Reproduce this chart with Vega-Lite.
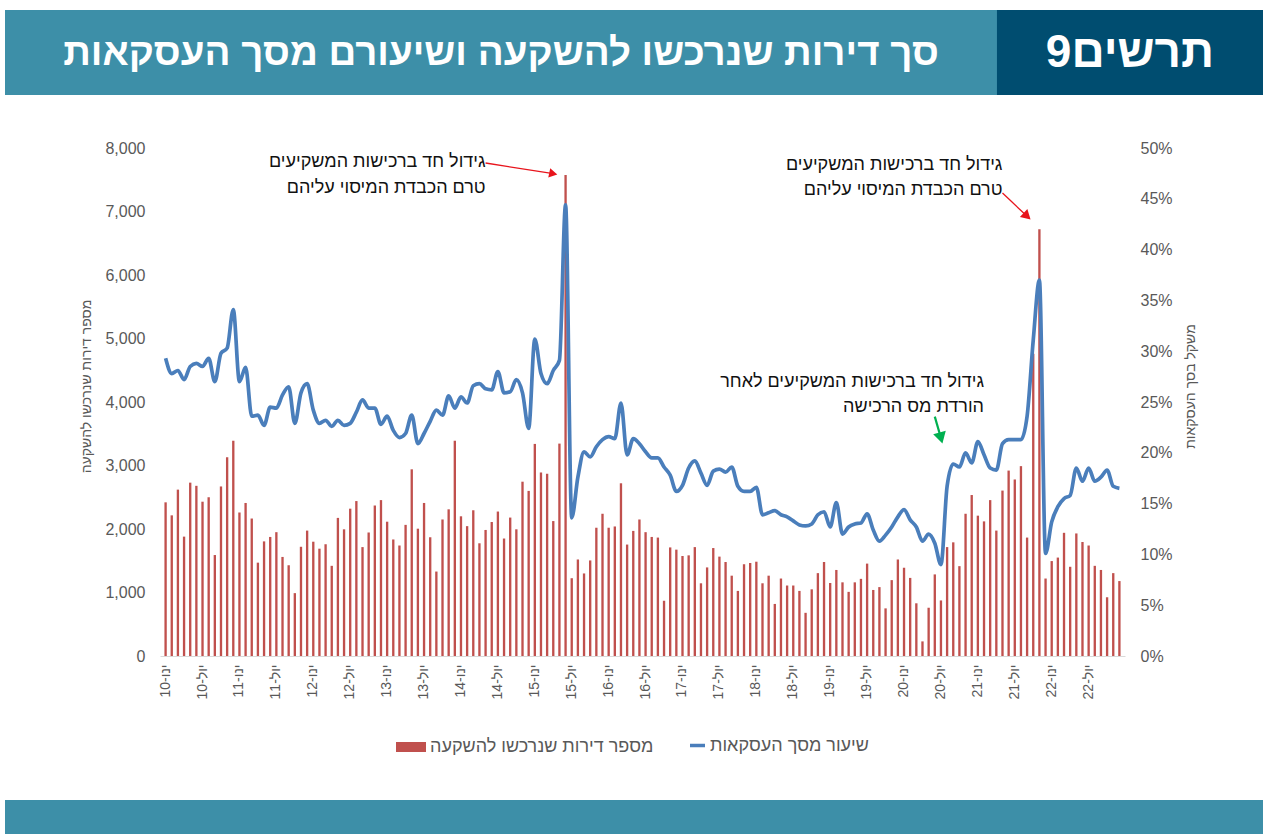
{
  "$schema": "https://vega.github.io/schema/vega-lite/v6.json",
  "padding": {"left": 5, "top": 10, "right": 0, "bottom": 0},
  "background": "white",
  "config": {"view": {"stroke": null}, "font": "Liberation Sans"},
  "datasets": {
    "main": [
      {"m":"ינו-10","n":2420,"p":0.293},{"m":"פבר-10","n":2215,"p":0.278},{"m":"מרץ-10","n":2620,"p":0.281},{"m":"אפר-10","n":1880,"p":0.272},{"m":"מאי-10","n":2730,"p":0.285},{"m":"יונ-10","n":2680,"p":0.288},{"m":"יול-10","n":2430,"p":0.285},{"m":"אוג-10","n":2500,"p":0.293},{"m":"ספט-10","n":1590,"p":0.270},{"m":"אוק-10","n":2670,"p":0.298},{"m":"נוב-10","n":3130,"p":0.303},{"m":"דצמ-10","n":3390,"p":0.341},
      {"m":"ינו-11","n":2260,"p":0.270},{"m":"פבר-11","n":2410,"p":0.284},{"m":"מרץ-11","n":2165,"p":0.236},{"m":"אפר-11","n":1470,"p":0.237},{"m":"מאי-11","n":1805,"p":0.227},{"m":"יונ-11","n":1875,"p":0.245},{"m":"יול-11","n":1950,"p":0.244},{"m":"אוג-11","n":1560,"p":0.257},{"m":"ספט-11","n":1430,"p":0.265},{"m":"אוק-11","n":990,"p":0.229},{"m":"נוב-11","n":1720,"p":0.259},{"m":"דצמ-11","n":1975,"p":0.268},
      {"m":"ינו-12","n":1800,"p":0.242},{"m":"פבר-12","n":1690,"p":0.229},{"m":"מרץ-12","n":1760,"p":0.232},{"m":"אפר-12","n":1420,"p":0.226},{"m":"מאי-12","n":2175,"p":0.232},{"m":"יונ-12","n":1995,"p":0.227},{"m":"יול-12","n":2320,"p":0.229},{"m":"אוג-12","n":2440,"p":0.240},{"m":"ספט-12","n":1715,"p":0.252},{"m":"אוק-12","n":1945,"p":0.244},{"m":"נוב-12","n":2370,"p":0.244},{"m":"דצמ-12","n":2455,"p":0.228},
      {"m":"ינו-13","n":2115,"p":0.236},{"m":"פבר-13","n":1835,"p":0.222},{"m":"מרץ-13","n":1740,"p":0.215},{"m":"אפר-13","n":2065,"p":0.219},{"m":"מאי-13","n":2940,"p":0.237},{"m":"יונ-13","n":2005,"p":0.209},{"m":"יול-13","n":2410,"p":0.219},{"m":"אוג-13","n":1870,"p":0.231},{"m":"ספט-13","n":1330,"p":0.242},{"m":"אוק-13","n":2150,"p":0.237},{"m":"נוב-13","n":2310,"p":0.256},{"m":"דצמ-13","n":3390,"p":0.244},
      {"m":"ינו-14","n":2200,"p":0.255},{"m":"פבר-14","n":2045,"p":0.249},{"m":"מרץ-14","n":2295,"p":0.266},{"m":"אפר-14","n":1775,"p":0.268},{"m":"מאי-14","n":1985,"p":0.263},{"m":"יונ-14","n":2110,"p":0.262},{"m":"יול-14","n":2275,"p":0.280},{"m":"אוג-14","n":1850,"p":0.259},{"m":"ספט-14","n":2180,"p":0.260},{"m":"אוק-14","n":1995,"p":0.272},{"m":"נוב-14","n":2745,"p":0.259},{"m":"דצמ-14","n":2600,"p":0.224},
      {"m":"ינו-15","n":3340,"p":0.312},{"m":"פבר-15","n":2890,"p":0.278},{"m":"מרץ-15","n":2870,"p":0.268},{"m":"אפר-15","n":2125,"p":0.281},{"m":"מאי-15","n":3345,"p":0.291},{"m":"יונ-15","n":7575,"p":0.444},{"m":"יול-15","n":1225,"p":0.136},{"m":"אוג-15","n":1520,"p":0.176},{"m":"ספט-15","n":1300,"p":0.201},{"m":"אוק-15","n":1505,"p":0.196},{"m":"נוב-15","n":2020,"p":0.206},{"m":"דצמ-15","n":2240,"p":0.213},
      {"m":"ינו-16","n":2020,"p":0.216},{"m":"פבר-16","n":2040,"p":0.214},{"m":"מרץ-16","n":2720,"p":0.249},{"m":"אפר-16","n":1755,"p":0.198},{"m":"מאי-16","n":1970,"p":0.214},{"m":"יונ-16","n":2150,"p":0.209},{"m":"יול-16","n":1950,"p":0.201},{"m":"אוג-16","n":1875,"p":0.195},{"m":"ספט-16","n":1865,"p":0.195},{"m":"אוק-16","n":870,"p":0.186},{"m":"נוב-16","n":1710,"p":0.178},{"m":"דצמ-16","n":1675,"p":0.162},
      {"m":"ינו-17","n":1575,"p":0.168},{"m":"פבר-17","n":1585,"p":0.185},{"m":"מרץ-17","n":1715,"p":0.192},{"m":"אפר-17","n":1145,"p":0.180},{"m":"מאי-17","n":1395,"p":0.168},{"m":"יונ-17","n":1700,"p":0.182},{"m":"יול-17","n":1565,"p":0.184},{"m":"אוג-17","n":1480,"p":0.181},{"m":"ספט-17","n":1265,"p":0.186},{"m":"אוק-17","n":1025,"p":0.167},{"m":"נוב-17","n":1445,"p":0.162},{"m":"דצמ-17","n":1465,"p":0.162},
      {"m":"ינו-18","n":1485,"p":0.166},{"m":"פבר-18","n":1145,"p":0.139},{"m":"מרץ-18","n":1265,"p":0.141},{"m":"אפר-18","n":820,"p":0.143},{"m":"מאי-18","n":1220,"p":0.139},{"m":"יונ-18","n":1110,"p":0.137},{"m":"יול-18","n":1110,"p":0.133},{"m":"אוג-18","n":1025,"p":0.129},{"m":"ספט-18","n":680,"p":0.128},{"m":"אוק-18","n":1050,"p":0.130},{"m":"נוב-18","n":1305,"p":0.139},{"m":"דצמ-18","n":1480,"p":0.142},
      {"m":"ינו-19","n":1150,"p":0.127},{"m":"פבר-19","n":1355,"p":0.151},{"m":"מרץ-19","n":1160,"p":0.120},{"m":"אפר-19","n":1010,"p":0.127},{"m":"מאי-19","n":1160,"p":0.130},{"m":"יונ-19","n":1215,"p":0.131},{"m":"יול-19","n":1455,"p":0.140},{"m":"אוג-19","n":1040,"p":0.124},{"m":"ספט-19","n":1085,"p":0.113},{"m":"אוק-19","n":750,"p":0.119},{"m":"נוב-19","n":1195,"p":0.127},{"m":"דצמ-19","n":1520,"p":0.137},
      {"m":"ינו-20","n":1390,"p":0.144},{"m":"פבר-20","n":1230,"p":0.134},{"m":"מרץ-20","n":830,"p":0.127},{"m":"אפר-20","n":230,"p":0.113},{"m":"מאי-20","n":760,"p":0.120},{"m":"יונ-20","n":1285,"p":0.111},{"m":"יול-20","n":875,"p":0.090},{"m":"אוג-20","n":1715,"p":0.167},{"m":"ספט-20","n":1790,"p":0.189},{"m":"אוק-20","n":1415,"p":0.186},{"m":"נוב-20","n":2240,"p":0.200},{"m":"דצמ-20","n":2535,"p":0.190},
      {"m":"ינו-21","n":2210,"p":0.211},{"m":"פבר-21","n":2120,"p":0.198},{"m":"מרץ-21","n":2455,"p":0.185},{"m":"אפר-21","n":1975,"p":0.183},{"m":"מאי-21","n":2605,"p":0.209},{"m":"יונ-21","n":2920,"p":0.213},{"m":"יול-21","n":2780,"p":0.213},{"m":"אוג-21","n":2990,"p":0.213},{"m":"ספט-21","n":1865,"p":0.236},{"m":"אוק-21","n":4760,"p":0.311},{"m":"נוב-21","n":6720,"p":0.370},{"m":"דצמ-21","n":1220,"p":0.101},
      {"m":"ינו-22","n":1495,"p":0.132},{"m":"פבר-22","n":1550,"p":0.147},{"m":"מרץ-22","n":1940,"p":0.155},{"m":"אפר-22","n":1405,"p":0.158},{"m":"מאי-22","n":1930,"p":0.185},{"m":"יונ-22","n":1795,"p":0.172},{"m":"יול-22","n":1740,"p":0.185},{"m":"אוג-22","n":1420,"p":0.172},{"m":"ספט-22","n":1355,"p":0.176},{"m":"אוק-22","n":925,"p":0.183},{"m":"נוב-22","n":1305,"p":0.167},{"m":"דצמ-22","n":1180,"p":0.165}
    ],
    "notes": [
      {"m":"מאי-14","n":7780,"t":"גידול חד ברכישות המשקיעים"},
      {"m":"מאי-14","n":7370,"t":"טרם הכבדת המיסוי עליהם"},
      {"m":"מאי-21","n":7732,"t":"גידול חד ברכישות המשקיעים"},
      {"m":"מאי-21","n":7339,"t":"טרם הכבדת המיסוי עליהם"},
      {"m":"פבר-21","n":4315,"t":"גידול חד ברכישות המשקיעים לאחר"},
      {"m":"פבר-21","n":3921,"t":"הורדת מס הרכישה"}
    ],
    "arrows": [
      {"arrow":"a1","kind":"red","m":"מאי-14","n":7764},
      {"arrow":"a1","kind":"red","m":"אפר-15","n":7595},
      {"arrow":"a2","kind":"red","m":"מאי-21","n":7291},
      {"arrow":"a2","kind":"red","m":"ספט-21","n":6924},
      {"arrow":"a3","kind":"green","m":"יונ-20","n":3769},
      {"arrow":"a3","kind":"green","m":"יול-20","n":3433}
    ],
    "heads": [
      {"arrow":"a1","m":"אפר-15","n":7595},
      {"arrow":"a2","m":"ספט-21","n":6924},
      {"arrow":"a3","m":"יול-20","n":3433}
    ],
    "band": [{"a": 0, "b": 0.272}]
  },
  "concat": [
    {
      "width": 155, "height": 85,
      "view": {"fill": "#3d8fa8", "stroke": null},
      "data": {"values": []},
      "mark": "point"
    },
    {
      "width": 1103, "height": 85,
      "view": {"fill": "#3d8fa8", "stroke": null},
      "layer": [
        {
          "data": {"values": [{"a": 0.7588, "b": 1}]},
          "mark": {"type": "rect", "color": "#004d70"},
          "encoding": {
            "x": {"field": "a", "type": "quantitative", "scale": {"domain": [0, 1], "nice": false, "zero": false}, "axis": null},
            "x2": {"field": "b"}
          }
        },
        {
          "data": {"values": [{"t": "סך דירות שנרכשו להשקעה ושיעורם מסך העסקאות", "c": 0.3092}]},
          "mark": {"type": "text", "color": "white", "fontSize": 38.5, "fontWeight": "bold"},
          "encoding": {
            "x": {"field": "c", "type": "quantitative", "scale": {"domain": [0, 1], "nice": false, "zero": false}, "axis": null},
            "text": {"field": "t"}
          }
        },
        {
          "data": {"values": [{"t": "תרשים9", "c": 0.8794}]},
          "mark": {"type": "text", "color": "white", "fontSize": 46, "fontWeight": "bold"},
          "encoding": {
            "x": {"field": "c", "type": "quantitative", "scale": {"domain": [0, 1], "nice": false, "zero": false}, "axis": null},
            "text": {"field": "t"}
          }
        }
      ]
    },
    {
      "width": 155, "height": 508,
      "data": {"values": []},
      "mark": "point"
    },
    {
      "width": 965, "height": 508,
      "encoding": {
        "x": {
          "field": "m", "type": "ordinal", "sort": null,
          "scale": {"paddingInner": 0.62, "paddingOuter": 0.72},
          "axis": {
            "title": null,
            "values": ["ינו-10","יול-10","ינו-11","יול-11","ינו-12","יול-12","ינו-13","יול-13","ינו-14","יול-14","ינו-15","יול-15","ינו-16","יול-16","ינו-17","יול-17","ינו-18","יול-18","ינו-19","יול-19","ינו-20","יול-20","ינו-21","יול-21","ינו-22","יול-22"],
            "labelAngle": -90, "labelFontSize": 14, "labelColor": "#595959", "labelPadding": 8,
            "labelOverlap": false, "ticks": false, "tickSize": 0,
            "domain": true, "domainColor": "#d9d9d9", "domainWidth": 1
          }
        }
      },
      "layer": [
        {
          "encoding": {
            "y": {
              "field": "n", "type": "quantitative",
              "scale": {"domain": [0, 8000], "nice": false},
              "axis": {
                "values": [0,1000,2000,3000,4000,5000,6000,7000,8000], "format": ",.0f",
                "title": "מספר דירות שנרכשו להשקעה", "titleFontSize": 14, "titleFontWeight": "normal",
                "titleColor": "#595959", "titlePadding": 11, "titleY": 238,
                "labelFontSize": 16, "labelColor": "#595959", "labelPadding": 15,
                "ticks": false, "tickSize": 0, "domain": false, "grid": false
              }
            }
          },
          "layer": [
            {
              "data": {"name": "main"},
              "mark": {"type": "bar", "color": "#c0504d"},
              "encoding": {
                "color": {
                  "datum": "מספר דירות שנרכשו להשקעה",
                  "scale": {"range": ["#c0504d"]},
                  "legend": {
                    "orient": "none", "legendX": 395, "legendY": 726, "title": null,
                    "symbolType": "M-1.5,-0.5H1.5V0.5H-1.5Z", "symbolSize": 400,
                    "labelFontSize": 18, "labelColor": "#595959", "labelOffset": 8, "labelLimit": 0
                  }
                }
              }
            },
            {
              "data": {"name": "notes"},
              "mark": {"type": "text", "align": "right", "baseline": "middle", "fontSize": 18, "color": "#111111"},
              "encoding": {"text": {"field": "t"}}
            },
            {
              "data": {"name": "arrows"},
              "transform": [{"filter": "datum.kind == 'red'"}],
              "mark": {"type": "line", "color": "#e8141c", "strokeWidth": 1.3},
              "encoding": {"detail": {"field": "arrow"}}
            },
            {
              "data": {"name": "arrows"},
              "transform": [{"filter": "datum.kind == 'green'"}],
              "mark": {"type": "line", "color": "#00b050", "strokeWidth": 2.2},
              "encoding": {"detail": {"field": "arrow"}}
            },
            {
              "data": {"name": "heads"},
              "transform": [{"filter": "datum.arrow == 'a1'"}],
              "mark": {"type": "point", "shape": "triangle-right", "filled": true, "size": 90, "angle": 12, "color": "#e8141c", "opacity": 1}
            },
            {
              "data": {"name": "heads"},
              "transform": [{"filter": "datum.arrow == 'a2'"}],
              "mark": {"type": "point", "shape": "triangle-right", "filled": true, "size": 120, "angle": 43, "color": "#e8141c", "opacity": 1}
            },
            {
              "data": {"name": "heads"},
              "transform": [{"filter": "datum.arrow == 'a3'"}],
              "mark": {"type": "point", "shape": "triangle-right", "filled": true, "size": 170, "angle": 75, "color": "#00b050", "opacity": 1}
            }
          ]
        },
        {
          "data": {"name": "main"},
          "mark": {"type": "line", "interpolate": "monotone", "strokeWidth": 3.7},
          "encoding": {
            "y": {
              "field": "p", "type": "quantitative",
              "scale": {"domain": [0, 0.5], "nice": false},
              "axis": {
                "orient": "right",
                "values": [0,0.05,0.1,0.15,0.2,0.25,0.3,0.35,0.4,0.45,0.5], "format": ".0%",
                "title": "משקל בסך העסקאות", "titleAngle": 270, "titleFontSize": 14, "titleFontWeight": "normal",
                "titleColor": "#595959", "titlePadding": 25, "titleY": 238,
                "labelFontSize": 16, "labelColor": "#595959", "labelPadding": 15,
                "ticks": false, "tickSize": 0, "domain": false, "grid": false
              }
            },
            "stroke": {
              "datum": "שיעור מסך העסקאות",
              "scale": {"range": ["#4a7ebb"]},
              "legend": {
                "orient": "none", "legendX": 683, "legendY": 726, "title": null,
                "symbolType": "stroke", "symbolSize": 225, "symbolStrokeWidth": 3.5,
                "labelFontSize": 18, "labelColor": "#595959", "labelOffset": 3, "labelLimit": 0
              }
            }
          }
        }
      ],
      "resolve": {"scale": {"y": "independent"}}
    },
    {
      "width": 155, "height": 125,
      "data": {"name": "band"},
      "mark": {"type": "rect", "color": "#3d8fa8"},
      "encoding": {
        "y": {"field": "a", "type": "quantitative", "scale": {"domain": [0, 1], "nice": false}, "axis": null},
        "y2": {"field": "b"}
      }
    },
    {
      "width": 1103, "height": 125,
      "data": {"name": "band"},
      "mark": {"type": "rect", "color": "#3d8fa8"},
      "encoding": {
        "y": {"field": "a", "type": "quantitative", "scale": {"domain": [0, 1], "nice": false}, "axis": null},
        "y2": {"field": "b"}
      }
    }
  ],
  "columns": 2,
  "spacing": {"row": 53, "column": 0},
  "bounds": "flush"
}
